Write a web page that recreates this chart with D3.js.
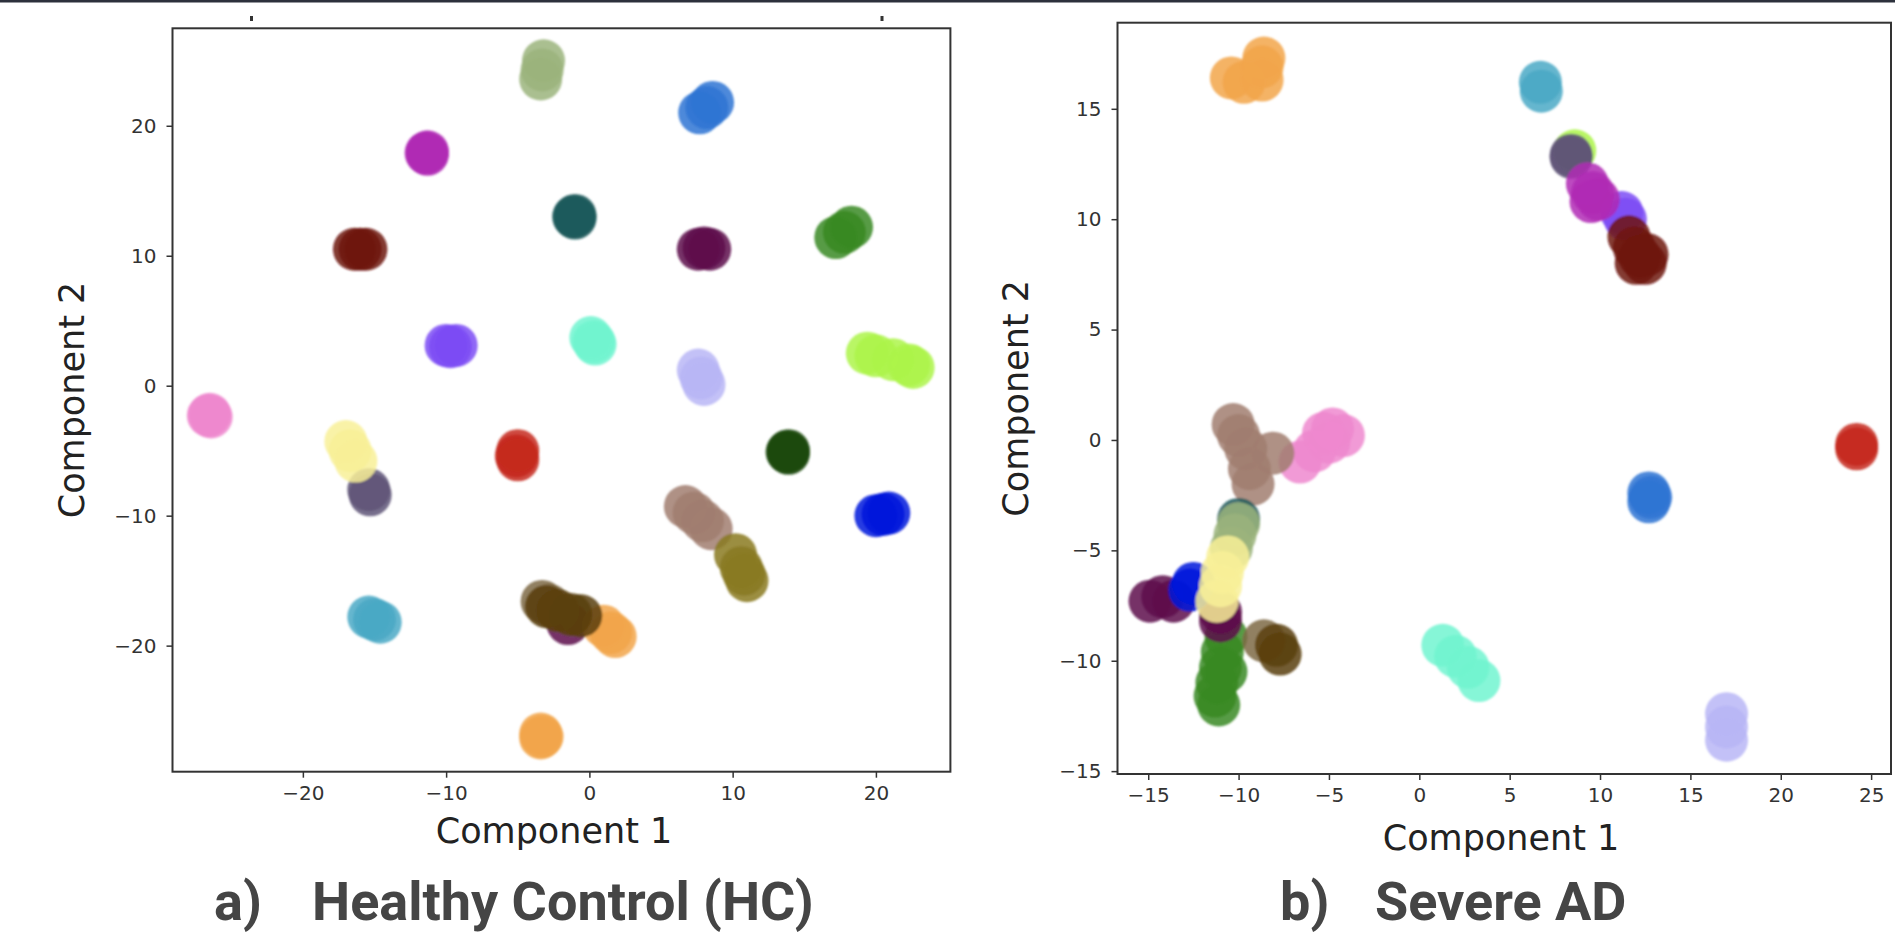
<!DOCTYPE html>
<html lang="en">
<head>
<meta charset="UTF-8">
<title>Component plots</title>
<script src="https://cdn.jsdelivr.net/npm/d3@7"></script>
<style>
  body { margin: 0; background: #fff; }
  .tick text { font-family: "DejaVu Sans", sans-serif; font-size: 20px; fill: #333; }
  .tick line { stroke: #333; stroke-width: 1.5; }
  .axis-label { font-family: "DejaVu Sans", sans-serif; font-size: 35px; fill: #222; }
  .panel-title { font-family: Roboto, sans-serif; font-weight: 700; font-size: 54px; fill: #454545; }
</style>
</head>
<body>
<svg id="fig" width="1895" height="933"></svg>
<script>
// cluster colours
const palette = {
  sage: "#9bb47c", blue: "#2e74d4", magenta: "#b02ab5", teal: "#1f5a5c",
  maroon: "#6e140f", plum: "#5e0e4c", green: "#3a8a24", violet: "#7d4cf4",
  aqua: "#72f5d0", lavender: "#b8b6f6", lime: "#adf54a", pink: "#ee88cf",
  yellow: "#f8f098", slate: "#5f5578", red: "#c6291c", darkgreen: "#1d4a0f",
  taupe: "#a17e70", olive: "#8a7a22", blue2: "#0018dc", cyan: "#4aa9c6",
  lightbrown: "#7e6a44", darkbrown: "#5a3f0e", orange: "#f2a64b"
};

// a) Healthy Control: [cluster, component 1, component 2]
const hcPoints = [
  ["sage", -3.2, 25.0], ["sage", -3.3, 24.3], ["sage", -3.4, 23.6],
  ["blue", 7.7, 21.0], ["blue", 8.2, 21.4], ["blue", 8.6, 21.8],
  ["magenta", -11.3, 18.0], ["magenta", -11.3, 17.8], ["magenta", -11.4, 17.9],
  ["teal", -1.0, 13.1], ["teal", -1.0, 12.9], ["teal", -1.1, 13.0],
  ["maroon", -16.4, 10.5], ["maroon", -16.0, 10.5], ["maroon", -15.6, 10.5],
  ["plum", 7.6, 10.5], ["plum", 8.0, 10.6], ["plum", 8.4, 10.5],
  ["green", 17.2, 11.4], ["green", 17.8, 11.8], ["green", 18.3, 12.2],
  ["violet", -10.0, 3.1], ["violet", -9.7, 3.0], ["violet", -9.3, 3.1],
  ["aqua", 0.1, 3.7], ["aqua", 0.3, 3.4], ["aqua", 0.4, 3.2],
  ["lavender", 7.6, 1.2], ["lavender", 7.8, 0.6], ["lavender", 8.0, 0.1],
  ["lime", 19.4, 2.5], ["lime", 20.0, 2.3], ["lime", 21.2, 2.0], ["lime", 22.3, 1.6], ["lime", 22.6, 1.4],
  ["pink", -26.5, -2.2], ["pink", -26.4, -2.4], ["pink", -26.6, -2.3],
  ["slate", -15.4, -8.0], ["slate", -15.3, -8.4],
  ["yellow", -17.0, -4.3], ["yellow", -16.7, -5.0], ["yellow", -16.3, -5.8],
  ["red", -5.0, -5.0], ["red", -5.1, -5.4], ["red", -5.0, -5.7],
  ["darkgreen", 13.9, -5.0], ["darkgreen", 13.8, -5.1], ["darkgreen", 13.9, -5.2],
  ["taupe", 6.7, -9.3], ["taupe", 7.3, -9.8], ["taupe", 7.9, -10.4], ["taupe", 8.5, -11.0],
  ["olive", 10.2, -13.0], ["olive", 10.6, -14.0], ["olive", 10.8, -14.5], ["olive", 11.0, -15.0],
  ["blue2", 20.0, -10.0], ["blue2", 20.5, -9.9], ["blue2", 20.9, -9.8],
  ["cyan", -15.4, -17.8], ["cyan", -15.0, -18.0], ["cyan", -14.6, -18.2],
  ["plum", -1.5, -18.3],
  ["lightbrown", -3.3, -16.6], ["lightbrown", -2.8, -16.9],
  ["orange", 1.0, -18.5], ["orange", 1.5, -19.0], ["orange", 1.8, -19.3],
  ["darkbrown", -3.0, -17.0], ["darkbrown", -2.2, -17.3], ["darkbrown", -1.3, -17.6], ["darkbrown", -0.6, -17.7],
  ["orange", -3.4, -26.8], ["orange", -3.4, -27.1], ["orange", -3.3, -27.0]
];

// b) Severe AD
const adPoints = [
  ["orange", -10.4, 16.4], ["orange", -9.7, 16.2], ["orange", -8.7, 16.3], ["orange", -8.6, 17.3], ["orange", -8.7, 16.9],
  ["cyan", 6.7, 16.2], ["cyan", 6.75, 15.8],
  ["lime", 8.6, 13.1],
  ["slate", 8.4, 12.9], ["slate", 8.4, 12.8],
  ["violet", 11.2, 10.3], ["violet", 11.4, 10.0],
  ["magenta", 9.3, 11.6], ["magenta", 9.5, 10.8], ["magenta", 9.9, 10.9], ["magenta", 9.6, 11.2],
  ["maroon", 11.6, 9.2], ["maroon", 11.9, 8.7], ["maroon", 12.2, 8.3], ["maroon", 12.5, 8.0], ["maroon", 12.6, 8.4], ["maroon", 12.0, 8.0],
  ["red", 24.2, -0.2], ["red", 24.2, -0.4],
  ["pink", -4.2, 0.2], ["pink", -4.8, 0.5], ["pink", -5.0, -0.1], ["pink", -5.8, -0.5], ["pink", -6.6, -1.0], ["pink", -5.3, 0.3],
  ["taupe", -10.3, 0.7], ["taupe", -10.0, 0.2], ["taupe", -9.6, -0.4], ["taupe", -8.1, -0.6], ["taupe", -9.4, -1.3], ["taupe", -9.2, -2.0],
  ["blue", 12.7, -2.4], ["blue", 12.7, -2.8], ["blue", 12.8, -2.6],
  ["teal", -10.0, -3.6],
  ["sage", -10.0, -3.8], ["sage", -10.2, -4.3], ["sage", -10.4, -4.9],
  ["green", -10.7, -8.9], ["green", -10.9, -9.6], ["green", -11.0, -10.3], ["green", -10.7, -10.5],
  ["green", -11.2, -11.0], ["green", -11.3, -11.6], ["green", -11.1, -12.0],
  ["plum", -14.9, -7.3], ["plum", -14.2, -7.1], ["plum", -13.6, -7.3], ["plum", -11.0, -8.2], ["plum", -11.0, -7.8],
  ["blue2", -12.5, -6.5], ["blue2", -12.7, -6.8],
  ["yellow", -10.6, -5.3], ["yellow", -10.9, -6.0], ["yellow", -11.0, -6.6], ["yellow", -11.2, -7.3],
  ["lightbrown", -8.6, -9.1],
  ["darkbrown", -7.9, -9.3], ["darkbrown", -7.7, -9.7],
  ["aqua", 1.3, -9.3], ["aqua", 2.0, -9.8], ["aqua", 2.7, -10.3], ["aqua", 3.3, -10.9],
  ["lavender", 17.0, -12.4], ["lavender", 17.0, -13.0], ["lavender", 17.0, -13.6]
];

const hcXDomain = [-29.1, 25.2], hcYDomain = [-29.7, 27.5];
const adXDomain = [-16.7, 26.1], adYDomain = [-15.13, 18.9];
const hcXTicks = [-20, -10, 0, 10, 20], hcYTicks = [-20, -10, 0, 10, 20];
const adXTicks = [-15, -10, -5, 0, 5, 10, 15, 20, 25], adYTicks = [-15, -10, -5, 0, 5, 10, 15];

const svg = d3.select("#fig");

svg.append("defs").append("filter").attr("id", "soft")
  .append("feGaussianBlur").attr("stdDeviation", 0.9);

// dark strip along the top edge and two stray tick marks above panel a
svg.append("rect").attr("x", 0).attr("y", 0).attr("width", 1895).attr("height", 2.5).attr("fill", "#2c313c");
[251.5, 882].forEach(x => {
  svg.append("rect").attr("x", x - 1.5).attr("y", 16).attr("width", 3).attr("height", 5).attr("fill", "#333");
});

function drawPanel(box, points, xDom, yDom, xTicks, yTicks, xLabel) {
  const x = d3.scaleLinear().domain(xDom).range([box.left, box.right]);
  const y = d3.scaleLinear().domain(yDom).range([box.bottom, box.top]);

  svg.append("g")
    .attr("filter", "url(#soft)")
    .selectAll("circle")
    .data(points)
    .join("circle")
    .attr("cx", d => x(d[1]))
    .attr("cy", d => y(d[2]))
    .attr("r", 21.5)
    .attr("fill", d => palette[d[0]])
    .attr("fill-opacity", 0.85);

  const gx = svg.append("g")
    .attr("transform", `translate(0,${box.bottom})`)
    .call(d3.axisBottom(x).tickValues(xTicks).tickSize(6).tickPadding(8).tickSizeOuter(0));
  const gy = svg.append("g")
    .attr("transform", `translate(${box.left},0)`)
    .call(d3.axisLeft(y).tickValues(yTicks).tickSize(6).tickPadding(10).tickSizeOuter(0));
  gx.select(".domain").remove();
  gy.select(".domain").remove();
  gx.attr("font-family", null).attr("font-size", null);
  gy.attr("font-family", null).attr("font-size", null);

  svg.append("rect")
    .attr("x", box.left).attr("y", box.top)
    .attr("width", box.right - box.left).attr("height", box.bottom - box.top)
    .attr("fill", "none").attr("stroke", "#333").attr("stroke-width", 2);

  svg.append("text").attr("class", "axis-label")
    .attr("x", xLabel.x).attr("y", xLabel.y)
    .attr("text-anchor", "middle")
    .text("Component 1");

  svg.append("text").attr("class", "axis-label")
    .attr("transform", `translate(${box.yLabelX},${(box.top + box.bottom) / 2}) rotate(-90)`)
    .attr("text-anchor", "middle")
    .text("Component 2");
}

drawPanel({ left: 172.5, right: 950.4, top: 28.3, bottom: 771.7, yLabelX: 84 },
  hcPoints, hcXDomain, hcYDomain, hcXTicks, hcYTicks, { x: 554, y: 843 });

drawPanel({ left: 1117.5, right: 1891, top: 22.7, bottom: 774, yLabelX: 1028 },
  adPoints, adXDomain, adYDomain, adXTicks, adYTicks, { x: 1501, y: 850 });

// panel captions
svg.append("text").attr("class", "panel-title").attr("x", 214).attr("y", 920).text("a)");
svg.append("text").attr("class", "panel-title").attr("x", 312).attr("y", 920).text("Healthy Control (HC)");
svg.append("text").attr("class", "panel-title").attr("x", 1280).attr("y", 920).text("b)");
svg.append("text").attr("class", "panel-title").attr("x", 1375).attr("y", 920).text("Severe AD");
</script>
</body>
</html>
